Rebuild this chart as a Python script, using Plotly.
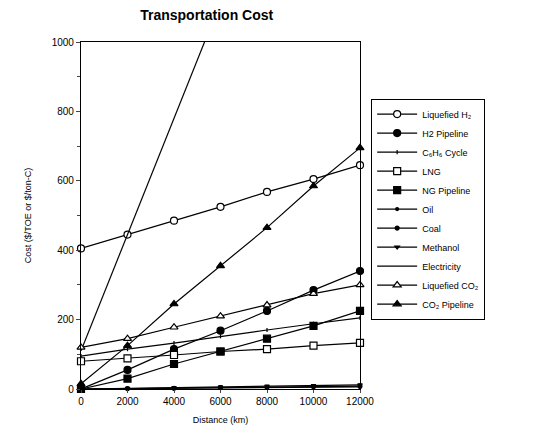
import plotly.graph_objects as go

distance = [0, 2000, 4000, 6000, 8000, 10000, 12000]
distance_labels = ["0", "2000", "4000", "6000", "8000", "10000", "12000"]

liquefied_h2 = [405, 445, 485, 525, 568, 605, 645]
h2_pipeline = [0, 55, 115, 168, 225, 285, 340]
c6h6_cycle = [95, 115, 132, 152, 170, 188, 205]
lng = [80, 88, 98, 108, 115, 125, 133]
ng_pipeline = [0, 30, 72, 108, 145, 182, 225]
oil = [0, 1, 2, 3, 4, 5, 6]
coal = [0, 1, 2, 4, 5, 7, 8]
methanol = [0, 2, 4, 6, 8, 10, 12]
electricity = [110, 445, 780, 1115, 1450, 1785, 2120]
liquefied_co2 = [120, 145, 178, 210, 242, 275, 300]
co2_pipeline = [15, 125, 245, 355, 465, 585, 695]

# name, values, symbol, size, filled
series = [
    ("Liquefied H\u2082", liquefied_h2, "circle", 7, False),
    ("H2 Pipeline", h2_pipeline, "circle", 7, True),
    ("C\u2086H\u2086 Cycle", c6h6_cycle, "line-ns", 3, True),
    ("LNG", lng, "square", 7, False),
    ("NG Pipeline", ng_pipeline, "square", 7, True),
    ("Oil", oil, "circle", 3, True),
    ("Coal", coal, "circle", 4, True),
    ("Methanol", methanol, "triangle-down", 4, True),
    ("Electricity", electricity, None, 0, True),
    ("Liquefied CO\u2082", liquefied_co2, "triangle-up", 7, False),
    ("CO\u2082 Pipeline", co2_pipeline, "triangle-up", 7, True),
]

fig = go.Figure()
for name, vals, sym, size, filled in series:
    if sym is None:
        fig.add_trace(go.Scatter(x=distance, y=vals, name=name, mode="lines",
                                 line=dict(color="black", width=1.2)))
    else:
        fig.add_trace(go.Scatter(
            x=distance, y=vals, name=name, mode="lines+markers",
            line=dict(color="black", width=1.2),
            marker=dict(symbol=sym, size=size, color="black" if filled else "white",
                        line=dict(color="black", width=1.2)),
            cliponaxis=False))

fig.update_layout(
    width=537, height=432,
    margin=dict(l=73, r=185, t=34, b=51),
    paper_bgcolor="white", plot_bgcolor="white",
    font=dict(family="Liberation Sans, Arial, sans-serif", color="black", size=9),
    title=dict(text="<b>Transportation Cost</b>", x=0.37, xanchor="center", y=0.995, yanchor="top",
               font=dict(size=14, family="Liberation Sans, Arial, sans-serif")),
    showlegend=True,
    legend=dict(x=1.04, y=0.837, xanchor="left", yanchor="top",
                bordercolor="black", borderwidth=1, bgcolor="white",
                font=dict(size=9), tracegroupgap=0, itemwidth=40),
    xaxis=dict(range=[0, 12000], tickvals=distance, ticktext=distance_labels,
               ticks="outside", ticklen=3,
               showline=True, linecolor="black", linewidth=1.2, mirror=True,
               showgrid=False, zeroline=False,
               title=dict(text="Distance (km)", font=dict(size=9), standoff=10),
               tickfont=dict(size=10)),
    yaxis=dict(range=[0, 1000], tickvals=[0, 200, 400, 600, 800, 1000], ticks="outside", ticklen=4,
               minor=dict(tickvals=[100, 300, 500, 700, 900], ticks="outside", ticklen=3, showgrid=False),
               showline=True, linecolor="black", linewidth=1.2, mirror=True,
               showgrid=False, zeroline=False,
               title=dict(text="Cost ($/TOE or $/ton-C)", font=dict(size=9), standoff=18),
               tickfont=dict(size=10)),
)

fig.write_html("out.html")
